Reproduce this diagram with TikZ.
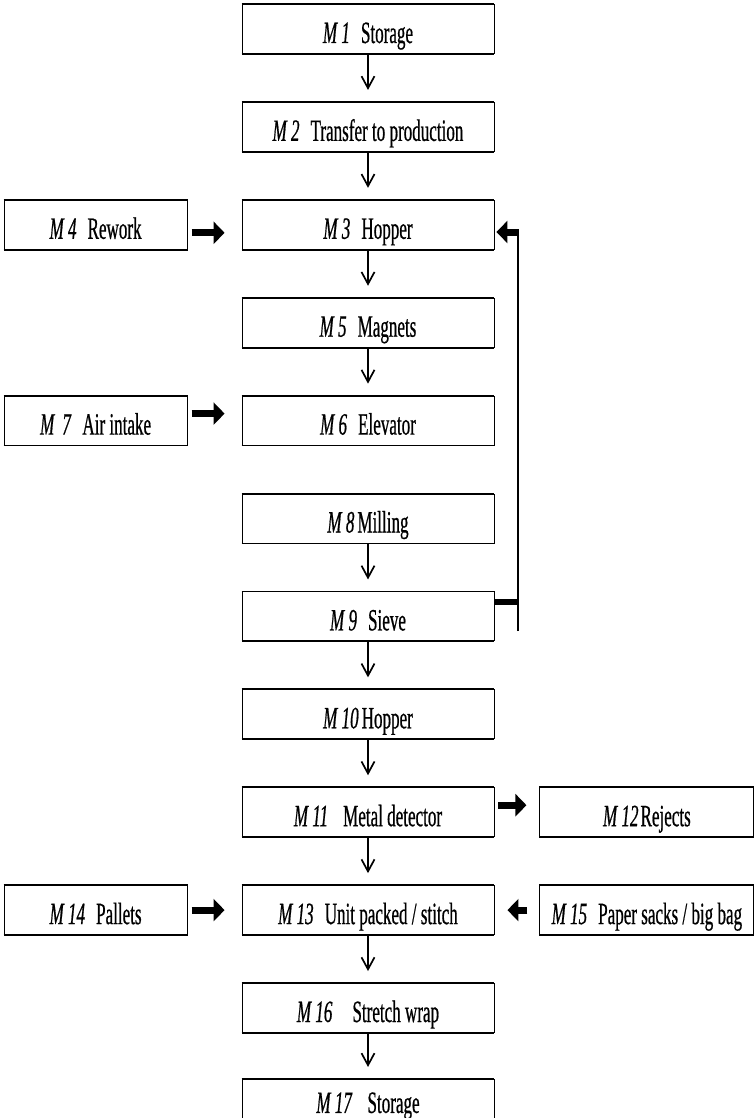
\documentclass[tikz,border=0pt]{standalone}
\usepackage{fontspec}
\setmainfont{Liberation Serif}
\newfontfamily\boxfont[FakeStretch=0.55, FakeBold=0.6]{Liberation Serif}
\usetikzlibrary{arrows.meta, positioning, calc}
\tikzset{
  mbox/.style={draw=black, line width=0.9pt, minimum height=49pt, inner sep=0pt,
    text height=30pt, text depth=2pt, font=\boxfont\fontsize{31}{33}\selectfont,
    append after command={(\tikzlastnode.north west) edge[line width=1.8pt] (\tikzlastnode.north east)
      (\tikzlastnode.south west) edge[line width=1.8pt] (\tikzlastnode.south east)}},
  wbox/.style={mbox, minimum width=252pt},
  lbox/.style={mbox, minimum width=183pt},
  rbox/.style={mbox, minimum width=214pt},
  flow/.style={-{Straight Barb[length=12pt,width=13pt]}, line width=1.7pt, shorten >=12pt},
  push/.style={-{Triangle[length=11pt,width=22pt]}, line width=7pt, shorten <=4pt, shorten >=17pt},
  back/.style={line width=1.6pt},
}

\begin{document}
\begin{tikzpicture}[x=1pt, y=-1pt, node distance=48pt and 54pt]
    \useasboundingbox (0,0) rectangle (754,1118);
    \node[wbox] (m1) at (368,29) {\textit{M 1}\hspace{11pt}Storage};
    \node[wbox, below=of m1] (m2) {\textit{M 2}\hspace{11pt}Transfer to production};
    \node[wbox, below=of m2] (m3) {\textit{M 3}\hspace{11pt}Hopper};
    \node[wbox, below=of m3] (m5) {\textit{M 5}\hspace{11pt}Magnets};
    \node[wbox, below=of m5] (m6) {\textit{M 6}\hspace{11pt}Elevator};
    \node[wbox, below=of m6] (m8) {\textit{M 8}\hspace{3pt}Milling};
    \node[wbox, below=of m8] (m9) {\textit{M 9}\hspace{11pt}Sieve};
    \node[wbox, below=of m9] (m10) {\textit{M 10}\hspace{3pt}Hopper};
    \node[wbox, below=of m10] (m11) {\textit{M 11}\hspace{15pt}Metal detector};
    \node[wbox, below=of m11] (m13) {\textit{M 13}\hspace{11pt}Unit packed / stitch};
    \node[wbox, below=of m13] (m16) {\textit{M 16}\hspace{20pt}Stretch wrap};
    \node[wbox, below=46pt of m16, minimum height=45pt, text height=28pt, text depth=6pt] (m17) {\textit{M 17}\hspace{15pt}Storage};
    \node[lbox, left=of m3] (m4) {\textit{M 4}\hspace{11pt}Rework};
    \node[lbox, left=of m6] (m7) {\textit{M\hspace{8pt}7}\hspace{11pt}Air intake};
    \node[lbox, left=of m13] (m14) {\textit{M 14}\hspace{11pt}Pallets};
    \node[rbox, right=45pt of m11] (m12) {\textit{M 12}\hspace{2pt}Rejects};
    \node[rbox, right=45pt of m13] (m15) {\textit{M 15}\hspace{11pt}Paper sacks / big bag};
    \draw[flow] (m1) -- (m2); \draw[flow] (m2) -- (m3); \draw[flow] (m3) -- (m5);
    \draw[flow] (m5) -- (m6); \draw[flow] (m8) -- (m9); \draw[flow] (m9) -- (m10);
    \draw[flow] (m10) -- (m11); \draw[flow] (m11) -- (m13); \draw[flow] (m13) -- (m16);
    \draw[flow] (m16) -- (m17);
    \draw[push] ([yshift=-8pt]m4.east) -- ([yshift=-8pt]m3.west);
    \draw[push] ([yshift=7pt]m7.east) -- ([yshift=7pt]m6.west);
    \draw[push] (m14.east) -- (m13.west);
    \draw[push, shorten >=13pt] ([yshift=7pt]m11.east) -- ([yshift=7pt]m12.west);
    \draw[push, shorten <=12pt, shorten >=13pt] (m15.west) -- (m13.east);
    \coordinate (fbtop) at (518,232);
    \coordinate (fbbot) at (518,631);
    \draw[back] (fbbot) -- ([yshift=3pt]fbtop);
    \draw[push, shorten <=-1pt, shorten >=2pt] (fbtop) -- (m3.east |- fbtop);
    \draw[line width=6pt] ([yshift=14pt]m9.east) -- ([yshift=14pt]m9.east -| fbbot);
  \end{tikzpicture}
\end{document}
